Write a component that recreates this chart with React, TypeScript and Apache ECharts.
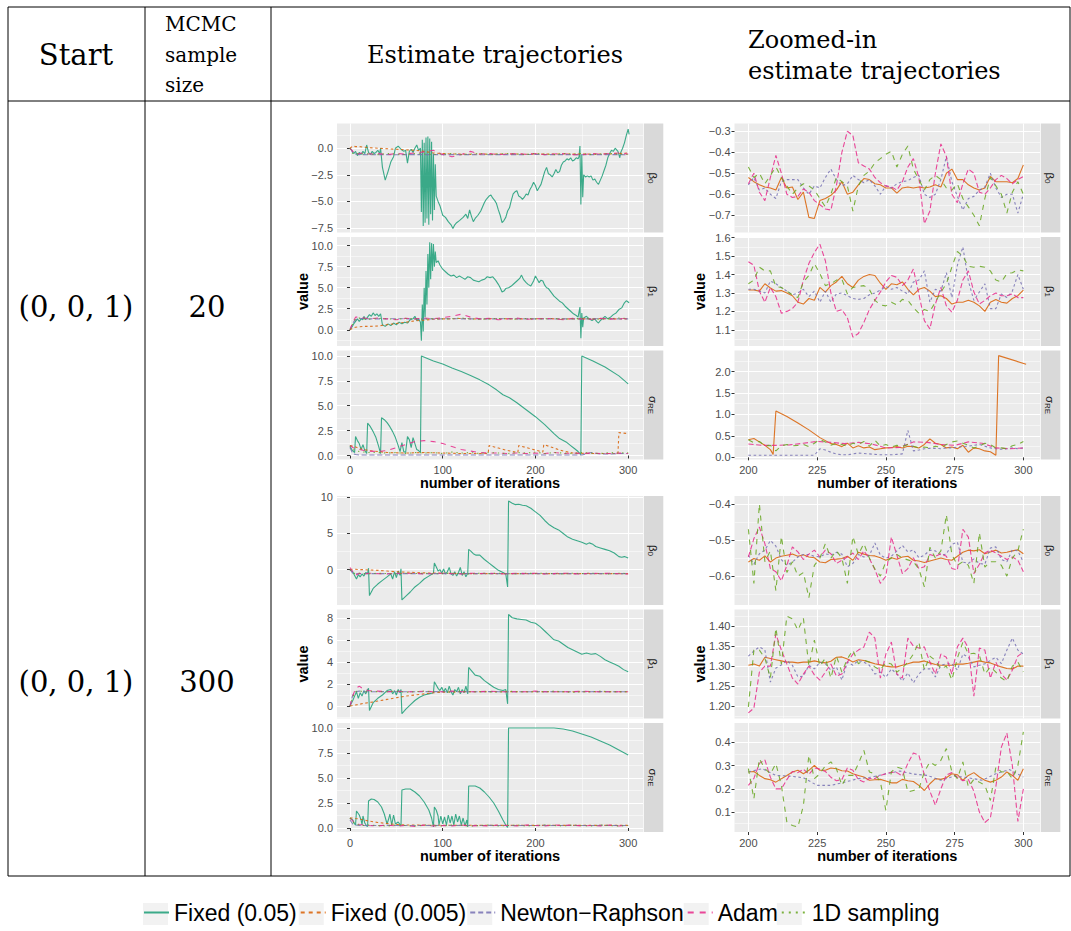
import React, { useEffect, useRef } from "react";
import * as echarts from "echarts";

// ---------------- categories / texts ----------------
const METHODS = ["Fixed (0.05)", "Fixed (0.005)", "Newton\u2212Raphson", "Adam", "1D sampling"];
const COLORS = ["#1B9E77", "#D95F02", "#7570B3", "#E7298A", "#66A61E"];
const HEAD_START = "Start";
const HEAD_MCMC = ["MCMC", "sample", "size"];
const HEAD_EST = "Estimate trajectories";
const HEAD_ZOOM = ["Zoomed-in", "estimate trajectories"];
const ROW_START = ["(0, 0, 1)", "(0, 0, 1)"];
const ROW_SIZE = ["20", "300"];
const X_TITLE = "number of iterations";
const Y_TITLE = "value";

// ---------------- tick labels ----------------
const X_TICKS_FULL = [0, 100, 200, 300];
const X_TICKS_ZOOM = [200, 225, 250, 275, 300];
const YT_R1L_B0 = [-7.5, -5, -2.5, 0];
const YT_R1L_B1 = [0, 2.5, 5, 7.5, 10];
const YT_R1L_S = [0, 2.5, 5, 7.5, 10];
const YT_R1Z_B0 = [-0.7, -0.6, -0.5, -0.4, -0.3];
const YT_R1Z_B1 = [1.1, 1.2, 1.3, 1.4, 1.5, 1.6];
const YT_R1Z_S = [0, 0.5, 1, 1.5, 2];
const YT_R2L_B0 = [0, 5, 10];
const YT_R2L_B1 = [0, 2, 4, 6, 8];
const YT_R2L_S = [0, 2.5, 5, 7.5, 10];
const YT_R2Z_B0 = [-0.6, -0.5, -0.4];
const YT_R2Z_B1 = [1.2, 1.25, 1.3, 1.35, 1.4];
const YT_R2Z_S = [0.1, 0.2, 0.3, 0.4];

// ---------------- iteration grids ----------------
const XL = [0, 3, 6, 10, 15, 20, 30, 40, 50, 60, 70, 80, 90, 100, 110, 120, 130, 140, 150, 160, 170, 180, 190, 200, 210, 220, 230, 240, 250, 260, 270, 280, 290, 300];
const X2 = [200, 202, 204, 206, 208, 210, 212, 214, 216, 218, 220, 222, 224, 226, 228, 230, 232, 234, 236, 238, 240, 242, 244, 246, 248, 250, 252, 254, 256, 258, 260, 262, 264, 266, 268, 270, 272, 274, 276, 278, 280, 282, 284, 286, 288, 290, 292, 294, 296, 298, 300];
const X5 = [200, 205, 210, 215, 220, 225, 230, 235, 240, 245, 250, 255, 260, 265, 270, 275, 280, 285, 290, 295, 300];

// ---------------- Row 1 (sample size 20), full trajectories ----------------
const R1_FIX05_B0 = [[0,0],[2,-0.2],[4,-0.5],[6,-0.3],[8,-0.7],[10,-0.4],[12,-0.6],[14,-0.3],[16,-0.5],[18,0.3],[20,-0.4],[22,-0.6],[24,-0.3],[26,-0.5],[28,-0.4],[30,-0.2],[32,-0.5],[33,0.0],[35,-1.8],[38,-3.0],[41,-2.2],[44,-1.3],[47,-0.8],[49,0.0],[52,0.2],[55,-0.1],[58,-0.3],[60,-0.2],[62,-1.4],[64,-0.3],[66,-0.1],[68,-0.4],[70,0.0],[72,0.3],[74,-0.2],[76,0.0],[77,-6.0],[78,0.8],[79,-7.3],[80,0.5],[81,-7.0],[82,1.0],[83,-6.6],[84,1.1],[85,-7.2],[86,0.9],[87,-6.2],[88,0.6],[89,-6.8],[90,-0.5],[91,-5.8],[92,-1.5],[93,-4.5],[95,-5.0],[97,-5.4],[100,-6.3],[103,-6.5],[106,-6.9],[109,-7.2],[111,-7.55],[113,-7.2],[115,-7.0],[118,-6.8],[122,-6.5],[125,-6.2],[127,-6.6],[129,-5.8],[131,-6.4],[133,-6.9],[135,-6.6],[138,-6.3],[141,-5.9],[143,-5.5],[145,-5.1],[147,-4.8],[150,-4.5],[152,-4.4],[154,-4.7],[156,-4.9],[158,-5.2],[160,-5.8],[162,-6.3],[164,-7.0],[166,-6.8],[168,-6.5],[170,-5.9],[172,-5.6],[174,-4.9],[176,-4.3],[178,-4.1],[180,-4.0],[182,-4.5],[184,-4.6],[186,-4.8],[188,-4.6],[190,-4.3],[192,-4.4],[194,-3.9],[196,-3.6],[198,-3.2],[200,-3.5],[202,-4.0],[204,-3.7],[206,-3.4],[208,-2.8],[210,-2.2],[212,-1.8],[214,-2.4],[216,-2.5],[218,-2.7],[220,-2.4],[222,-2.0],[224,-2.3],[226,-2.2],[228,-1.6],[230,-1.3],[232,-1.2],[234,-1.0],[236,-1.1],[238,-0.9],[240,-1.2],[242,-1.1],[244,-0.9],[246,-1.0],[247,-0.8],[248,0.2],[249,-5.3],[250,-0.6],[251,-4.6],[252,-2.5],[254,-2.7],[256,-2.6],[258,-2.7],[260,-2.6],[262,-3.0],[264,-2.9],[266,-3.2],[268,-3.4],[270,-3.0],[272,-2.6],[274,-2.1],[276,-1.6],[278,-0.9],[280,-0.5],[282,-0.2],[284,-0.3],[286,0.0],[288,-0.2],[289,-0.3],[291,-0.9],[292,-0.4],[294,0.0],[296,0.5],[298,1.2],[300,1.8],[301,1.3]];
const R1_FIX005_B0 = [0, 0.2, 0.15, 0.15, 0.1, 0.05, 0.0, -0.05, -0.1, -0.15, -0.2, -0.3, -0.45, -0.5, -0.55, -0.55, -0.58, -0.56, -0.55, -0.56, -0.54, -0.55, -0.57, -0.55, -0.56, -0.55, -0.54, -0.56, -0.55, -0.56, -0.55, -0.54, -0.5, -0.45];
const R1_NR_B0 = [0, -0.4, -0.55, -0.6, -0.6, -0.62, -0.6, -0.6, -0.62, -0.6, -0.6, -0.6, -0.6, -0.6, -0.6, -0.6, -0.6, -0.62, -0.6, -0.6, -0.6, -0.6, -0.6, -0.58, -0.6, -0.6, -0.6, -0.6, -0.62, -0.6, -0.6, -0.6, -0.6, -0.62];
const R1_ADAM_B0 = [0, -0.3, -0.6, -0.5, -0.45, -0.55, -0.5, -0.6, -0.5, -0.55, -0.45, -0.35, -0.2, -0.6, -0.8, -0.6, -0.3, -0.55, -0.5, -0.6, -0.55, -0.5, -0.58, -0.5, -0.6, -0.55, -0.5, -0.6, -0.62, -0.5, -0.55, -0.5, -0.45, -0.55];
const R1_1D_B0 = [0, -0.5, -0.45, -0.6, -0.5, -0.55, -0.6, -0.5, -0.55, -0.6, -0.5, -0.55, -0.6, -0.55, -0.5, -0.6, -0.55, -0.5, -0.6, -0.55, -0.5, -0.55, -0.6, -0.5, -0.55, -0.6, -0.5, -0.55, -0.5, -0.6, -0.55, -0.5, -0.55, -0.6];

const R1_FIX05_B1 = [[0,0],[2,0.3],[4,0.7],[6,1.0],[8,1.3],[10,1.0],[12,1.3],[14,1.2],[15,1.6],[17,1.2],[19,1.5],[21,1.8],[23,1.6],[25,2.0],[27,1.7],[29,1.9],[31,1.6],[33,1.9],[35,0.6],[38,0.4],[41,0.7],[44,0.5],[47,0.8],[50,0.6],[53,0.9],[56,0.7],[59,0.9],[62,0.8],[65,1.2],[68,1.3],[70,1.6],[72,1.1],[74,1.3],[76,0.9],[77,-1.3],[78,3.0],[79,-0.2],[80,5.0],[81,1.5],[82,7.0],[83,3.0],[84,9.0],[85,5.0],[86,10.4],[87,6.0],[88,10.3],[89,7.0],[90,10.2],[91,7.5],[92,9.3],[93,8.0],[95,8.2],[97,7.7],[100,7.2],[103,6.9],[106,6.6],[109,6.4],[112,6.5],[115,6.2],[118,6.4],[121,6.2],[124,6.0],[127,6.3],[130,6.2],[133,5.9],[136,5.8],[139,5.7],[142,5.9],[145,6.0],[148,6.3],[151,6.2],[154,6.3],[157,5.9],[160,5.4],[162,5.0],[164,4.5],[166,4.6],[168,4.9],[171,5.0],[174,5.2],[177,5.5],[180,5.8],[183,6.1],[185,6.5],[187,6.0],[190,5.6],[192,5.4],[195,5.2],[198,5.8],[200,6.4],[202,6.0],[204,5.6],[206,5.9],[208,5.8],[210,5.3],[212,5.0],[214,4.9],[216,4.6],[218,4.3],[220,4.0],[223,3.7],[226,3.4],[229,3.2],[232,2.8],[235,2.5],[238,2.2],[241,1.9],[244,1.7],[246,1.5],[248,2.7],[249,-1.0],[250,2.0],[251,0.3],[252,1.4],[255,1.6],[258,1.3],[261,1.1],[264,1.3],[266,1.0],[268,0.8],[270,1.1],[272,1.3],[275,1.6],[278,1.3],[281,1.5],[284,1.8],[287,2.0],[290,2.4],[293,2.6],[296,3.2],[298,3.45],[300,3.3],[301,3.2]];
const R1_FIX005_B1 = [0, 0.2, 0.3, 0.35, 0.4, 0.4, 0.45, 0.6, 0.75, 0.9, 1.05, 1.15, 1.25, 1.3, 1.3, 1.35, 1.3, 1.28, 1.3, 1.32, 1.3, 1.3, 1.28, 1.3, 1.32, 1.3, 1.3, 1.28, 1.3, 1.3, 1.32, 1.3, 1.28, 1.3];
const R1_NR_B1 = [0, 0.8, 1.2, 1.3, 1.35, 1.3, 1.3, 1.3, 1.32, 1.3, 1.3, 1.3, 1.3, 1.3, 1.32, 1.3, 1.3, 1.3, 1.3, 1.3, 1.32, 1.3, 1.3, 1.3, 1.3, 1.28, 1.3, 1.3, 1.3, 1.3, 1.32, 1.3, 1.3, 1.3];
const R1_ADAM_B1 = [0, 0.9, 1.5, 1.5, 1.4, 1.3, 1.4, 1.3, 1.2, 1.35, 1.3, 1.4, 1.3, 1.45, 1.6, 1.85, 1.5, 1.3, 1.35, 1.2, 1.3, 1.4, 1.25, 1.3, 1.35, 1.3, 1.2, 1.35, 1.3, 1.25, 1.35, 1.3, 1.3, 1.35];
const R1_1D_B1 = [0, 0.7, 1.3, 1.4, 1.3, 1.25, 1.35, 1.3, 1.25, 1.35, 1.3, 1.25, 1.35, 1.3, 1.3, 1.4, 1.3, 1.25, 1.3, 1.35, 1.3, 1.25, 1.35, 1.3, 1.3, 1.35, 1.25, 1.3, 1.35, 1.3, 1.25, 1.3, 1.4, 1.35];

const R1_FIX05_S = [[0,0.9],[2,0.6],[4,0.4],[5,0.3],[6,1.9],[8,1.5],[10,1.2],[12,0.6],[14,1.1],[16,0.5],[18,0.2],[19,3.25],[22,2.9],[25,2.4],[28,1.8],[31,0.9],[33,0.2],[34,3.8],[37,3.6],[40,3.3],[43,2.9],[46,2.4],[49,1.8],[52,1.0],[54,0.4],[56,1.3],[58,0.4],[60,0.3],[62,1.9],[64,1.6],[66,0.8],[68,1.8],[70,1.2],[72,0.6],[74,0.5],[76,0.3],[77,10.0],[90,9.5],[100,9.2],[110,8.8],[120,8.45],[130,8.05],[140,7.6],[150,7.1],[158,6.6],[165,6.1],[172,5.8],[180,5.3],[190,4.6],[200,3.9],[210,3.1],[220,2.2],[226,1.7],[230,1.5],[234,1.3],[238,1.0],[242,0.7],[246,0.4],[249,0.1],[250,10.0],[262,9.5],[275,8.9],[290,8.0],[300,7.2]];
const R1_FIX005_S = [[0,1.0],[5,0.9],[10,0.7],[20,0.5],[30,0.4],[40,0.3],[60,0.25],[80,0.3],[100,0.25],[120,0.2],[149,0.2],[150,1.0],[160,0.75],[170,0.5],[181,0.3],[182,1.0],[190,0.8],[200,0.55],[208,0.35],[209,1.1],[220,0.75],[230,0.45],[240,0.25],[260,0.2],[275,0.2],[289,0.2],[290,2.3],[300,2.2]];
const R1_NR_S = [0.8, 0.2, 0.1, 0.05, 0.05, 0.05, 0.05, 0.05, 0.05, 0.05, 0.05, 0.05, 0.05, 0.05, 0.05, 0.05, 0.05, 0.05, 0.05, 0.05, 0.05, 0.05, 0.05, 0.05, 0.05, 0.05, 0.05, 0.05, 0.05, 0.3, 0.15, 0.15, 0.2, 0.2];
const R1_ADAM_S = [1.0, 0.8, 0.7, 0.6, 0.5, 0.45, 0.4, 0.5, 0.8, 1.1, 1.4, 1.5, 1.4, 1.2, 0.9, 0.6, 0.45, 0.3, 0.25, 0.25, 0.2, 0.25, 0.2, 0.25, 0.2, 0.3, 0.2, 0.25, 0.2, 0.25, 0.2, 0.2, 0.25, 0.2];
const R1_1D_S = [1.0, 0.6, 0.5, 0.4, 0.35, 0.3, 0.3, 0.25, 0.3, 0.2, 0.3, 0.25, 0.3, 0.2, 0.35, 0.25, 0.3, 0.2, 0.3, 0.25, 0.2, 0.3, 0.25, 0.35, 0.2, 0.3, 0.25, 0.2, 0.3, 0.25, 0.2, 0.3, 0.25, 0.3];

// ---------------- Row 1 zoomed (iterations 200-300) ----------------
const R1Z_FIX005_B0 = [-0.52,-0.54,-0.555,-0.565,-0.57,-0.58,-0.52,-0.57,-0.565,-0.625,-0.59,-0.71,-0.715,-0.63,-0.62,-0.605,-0.58,-0.54,-0.6,-0.59,-0.555,-0.525,-0.53,-0.55,-0.555,-0.57,-0.57,-0.595,-0.57,-0.565,-0.57,-0.565,-0.57,-0.565,-0.555,-0.565,-0.5,-0.48,-0.53,-0.53,-0.555,-0.57,-0.58,-0.57,-0.515,-0.54,-0.54,-0.54,-0.545,-0.525,-0.46];
const R1Z_NR_B0 = [-0.555,-0.52,-0.58,-0.57,-0.6,-0.62,-0.54,-0.53,-0.53,-0.53,-0.57,-0.6,-0.56,-0.57,-0.52,-0.48,-0.53,-0.56,-0.55,-0.51,-0.53,-0.545,-0.53,-0.56,-0.6,-0.56,-0.57,-0.55,-0.54,-0.535,-0.52,-0.51,-0.6,-0.615,-0.6,-0.53,-0.42,-0.54,-0.61,-0.675,-0.62,-0.61,-0.58,-0.565,-0.5,-0.57,-0.615,-0.6,-0.6,-0.69,-0.6];
const R1Z_ADAM_B0 = [-0.55,-0.5,-0.59,-0.63,-0.52,-0.415,-0.5,-0.6,-0.615,-0.61,-0.575,-0.59,-0.63,-0.65,-0.67,-0.675,-0.56,-0.4,-0.3,-0.32,-0.45,-0.465,-0.48,-0.52,-0.545,-0.56,-0.565,-0.58,-0.54,-0.47,-0.43,-0.52,-0.74,-0.68,-0.5,-0.36,-0.42,-0.6,-0.64,-0.55,-0.48,-0.5,-0.59,-0.6,-0.57,-0.53,-0.51,-0.525,-0.55,-0.53,-0.515];
const R1Z_1D_B0 = [-0.47,-0.52,-0.5,-0.55,-0.51,-0.47,-0.52,-0.56,-0.6,-0.57,-0.55,-0.56,-0.58,-0.62,-0.66,-0.6,-0.52,-0.54,-0.56,-0.68,-0.56,-0.51,-0.49,-0.45,-0.43,-0.41,-0.395,-0.47,-0.41,-0.37,-0.48,-0.53,-0.58,-0.53,-0.51,-0.53,-0.57,-0.58,-0.55,-0.62,-0.66,-0.7,-0.75,-0.62,-0.52,-0.56,-0.6,-0.69,-0.59,-0.54,-0.6];

const R1Z_FIX005_B1 = [1.316,1.316,1.31,1.35,1.327,1.31,1.313,1.3,1.285,1.25,1.24,1.27,1.26,1.33,1.305,1.34,1.36,1.39,1.35,1.33,1.37,1.39,1.4,1.395,1.353,1.32,1.35,1.345,1.36,1.32,1.29,1.32,1.33,1.31,1.28,1.285,1.27,1.24,1.25,1.25,1.26,1.25,1.23,1.2,1.25,1.265,1.25,1.245,1.27,1.285,1.316];
const R1Z_NR_B1 = [1.32,1.32,1.31,1.3,1.365,1.35,1.33,1.31,1.29,1.3,1.32,1.28,1.31,1.25,1.31,1.25,1.295,1.3,1.285,1.27,1.265,1.27,1.29,1.3,1.315,1.335,1.32,1.33,1.31,1.295,1.36,1.37,1.42,1.25,1.32,1.31,1.41,1.275,1.45,1.55,1.365,1.26,1.305,1.35,1.215,1.215,1.295,1.275,1.31,1.4,1.32];
const R1Z_ADAM_B1 = [1.47,1.45,1.31,1.25,1.33,1.28,1.19,1.2,1.215,1.25,1.37,1.46,1.52,1.565,1.475,1.3,1.2,1.21,1.165,1.06,1.08,1.14,1.21,1.26,1.305,1.36,1.395,1.385,1.34,1.37,1.43,1.295,1.15,1.105,1.24,1.33,1.23,1.195,1.26,1.37,1.42,1.305,1.24,1.26,1.285,1.3,1.285,1.285,1.295,1.275,1.275];
const R1Z_1D_B1 = [1.35,1.37,1.44,1.42,1.42,1.335,1.33,1.31,1.29,1.275,1.36,1.395,1.46,1.405,1.34,1.35,1.37,1.375,1.295,1.33,1.335,1.34,1.32,1.26,1.235,1.23,1.25,1.235,1.265,1.26,1.22,1.19,1.21,1.2,1.25,1.305,1.35,1.44,1.525,1.5,1.445,1.44,1.445,1.44,1.42,1.37,1.36,1.405,1.41,1.425,1.42];

const R1Z_FIX005_S = [[200,0.41],[202,0.44],[204,0.36],[206,0.28],[208,0.18],[209,0.07],[210,1.08],[214,0.95],[218,0.8],[222,0.64],[226,0.46],[230,0.32],[232,0.3],[234,0.25],[236,0.33],[238,0.22],[240,0.27],[242,0.22],[244,0.24],[246,0.18],[248,0.2],[250,0.22],[252,0.23],[254,0.25],[256,0.22],[258,0.26],[260,0.25],[262,0.22],[264,0.3],[266,0.43],[268,0.33],[270,0.3],[272,0.22],[274,0.24],[276,0.2],[278,0.28],[280,0.12],[282,0.22],[284,0.2],[286,0.15],[288,0.13],[290,0.05],[291,2.37],[301,2.17]];
const R1Z_NR_S = [0.05,0.05,0.05,0.05,0.05,0.05,0.05,0.05,0.05,0.05,0.05,0.05,0.05,0.2,0.17,0.12,0.08,0.06,0.06,0.08,0.1,0.09,0.08,0.07,0.06,0.06,0.06,0.07,0.08,0.63,0.15,0.17,0.2,0.21,0.21,0.2,0.22,0.22,0.24,0.25,0.26,0.28,0.3,0.26,0.22,0.2,0.19,0.2,0.22,0.2,0.22];
const R1Z_ADAM_S = [0.31,0.28,0.28,0.29,0.33,0.37,0.35,0.32,0.35,0.31,0.22,0.23,0.36,0.35,0.3,0.28,0.36,0.33,0.22,0.2,0.22];
const R1Z_1D_S = [0.41,0.34,0.37,0.27,0.28,0.15,0.27,0.3,0.27,0.28,0.3,0.25,0.33,0.42,0.36,0.28,0.33,0.3,0.26,0.33,0.3,0.37,0.26,0.4,0.26,0.3,0.24,0.28,0.25,0.3,0.26,0.22,0.24,0.22,0.26,0.23,0.3,0.36,0.38,0.33,0.28,0.22,0.26,0.33,0.3,0.22,0.22,0.2,0.27,0.3,0.37];

// ---------------- Row 2 (sample size 300), full trajectories ----------------
const R2_FIX05_B0 = [[0,0],[3,-0.3],[5,-0.8],[7,-1.3],[9,-0.7],[11,-1.0],[13,-0.6],[15,-0.9],[17,-0.4],[19,-0.6],[20,0.2],[21,-3.6],[25,-2.6],[30,-2.0],[35,-1.5],[40,-1.0],[44,-0.6],[46,-1.3],[48,-0.3],[50,-1.1],[52,-0.2],[54,-0.8],[55,0.1],[56,-4.2],[60,-3.7],[65,-3.1],[70,-2.4],[75,-1.9],[80,-1.3],[85,-0.9],[90,-0.5],[91,0.9],[93,0.4],[95,-0.2],[97,0.0],[99,-0.5],[101,0.1],[103,-0.6],[105,-0.3],[107,0.3],[109,-0.6],[111,-0.8],[113,-0.3],[115,-0.9],[117,-0.4],[119,0.3],[121,-0.8],[123,-0.3],[125,-1.0],[127,-0.5],[128,2.8],[130,2.6],[133,2.2],[136,2.0],[140,2.0],[145,1.4],[150,0.9],[155,0.4],[160,-0.1],[165,-0.4],[168,-0.6],[170,-2.4],[171,9.5],[175,9.2],[178,9.0],[182,9.05],[186,8.9],[190,8.85],[195,8.5],[200,8.0],[205,7.5],[210,6.8],[215,6.2],[220,5.8],[225,5.5],[230,5.0],[235,4.5],[240,4.2],[245,4.0],[250,3.8],[255,3.5],[258,3.7],[262,3.5],[265,3.2],[270,3.0],[275,2.8],[280,2.6],[285,2.3],[290,1.8],[293,1.7],[296,1.8],[300,1.6]];
const R2_FIX005_B0 = [0, 0.05, 0.05, 0.0, 0.0, -0.05, -0.1, -0.2, -0.3, -0.35, -0.4, -0.45, -0.48, -0.5, -0.52, -0.54, -0.55, -0.55, -0.55, -0.55, -0.55, -0.55, -0.55, -0.55, -0.55, -0.55, -0.55, -0.55, -0.55, -0.55, -0.55, -0.55, -0.55, -0.55];
const R2_NR_B0 = [0, -0.5, -0.6, -0.55, -0.55, -0.56, -0.55, -0.55, -0.56, -0.55, -0.55, -0.55, -0.56, -0.55, -0.55, -0.55, -0.56, -0.55, -0.55, -0.55, -0.55, -0.56, -0.55, -0.55, -0.55, -0.56, -0.55, -0.55, -0.55, -0.55, -0.56, -0.55, -0.55, -0.55];
const R2_ADAM_B0 = [0.3, -0.3, -0.8, -0.5, -0.6, -0.5, -0.55, -0.6, -0.5, -0.55, -0.5, -0.6, -0.55, -0.5, -0.55, -0.6, -0.5, -0.55, -0.5, -0.55, -0.6, -0.5, -0.55, -0.5, -0.6, -0.55, -0.5, -0.55, -0.6, -0.5, -0.55, -0.5, -0.55, -0.6];
const R2_1D_B0 = [0, -0.4, -0.6, -0.5, -0.55, -0.6, -0.5, -0.55, -0.6, -0.5, -0.55, -0.5, -0.6, -0.55, -0.5, -0.55, -0.6, -0.5, -0.55, -0.5, -0.55, -0.6, -0.5, -0.55, -0.5, -0.55, -0.6, -0.5, -0.55, -0.5, -0.55, -0.6, -0.5, -0.55];

const R2_FIX05_B1 = [[0,0],[3,0.5],[5,0.9],[7,1.3],[9,0.7],[11,1.2],[13,0.9],[15,1.4],[17,1.1],[19,1.5],[20,1.6],[21,-0.4],[25,0.3],[30,0.7],[35,1.0],[40,1.4],[44,1.5],[46,1.1],[48,1.4],[50,1.0],[52,1.5],[54,1.2],[55,1.5],[56,-0.7],[60,-0.3],[65,0.1],[70,0.5],[75,0.8],[80,1.0],[85,1.1],[90,1.2],[91,2.2],[93,1.9],[95,1.6],[97,1.4],[99,1.7],[101,1.3],[103,1.6],[105,1.2],[107,1.8],[109,1.3],[111,1.0],[113,1.5],[115,1.3],[117,1.7],[119,1.1],[121,1.5],[123,1.2],[125,1.8],[127,1.1],[128,3.5],[130,3.3],[135,2.8],[140,2.7],[145,2.3],[150,2.0],[155,1.7],[160,1.5],[165,1.4],[168,1.5],[170,0.2],[171,8.3],[175,8.0],[180,7.9],[185,7.85],[190,7.8],[195,7.6],[200,7.5],[205,7.2],[210,6.8],[215,6.4],[220,6.0],[225,5.9],[230,5.6],[235,5.3],[240,5.1],[245,4.9],[250,4.7],[255,4.8],[260,4.7],[265,4.75],[270,4.5],[275,4.2],[280,4.0],[285,3.8],[290,3.6],[295,3.3],[300,3.1]];
const R2_FIX005_B1 = [0, 0.05, 0.1, 0.15, 0.25, 0.3, 0.45, 0.6, 0.75, 0.9, 1.0, 1.1, 1.2, 1.25, 1.28, 1.3, 1.3, 1.3, 1.3, 1.3, 1.3, 1.3, 1.3, 1.3, 1.3, 1.3, 1.3, 1.3, 1.3, 1.3, 1.3, 1.3, 1.3, 1.3];
const R2_NR_B1 = [0, 1.0, 1.3, 1.35, 1.3, 1.3, 1.3, 1.31, 1.3, 1.3, 1.3, 1.3, 1.31, 1.3, 1.3, 1.3, 1.3, 1.3, 1.31, 1.3, 1.3, 1.3, 1.3, 1.3, 1.31, 1.3, 1.3, 1.3, 1.3, 1.3, 1.31, 1.3, 1.3, 1.3];
const R2_ADAM_B1 = [0, 0.9, 1.6, 1.8, 1.5, 1.4, 1.35, 1.3, 1.35, 1.3, 1.3, 1.35, 1.3, 1.3, 1.35, 1.3, 1.3, 1.3, 1.35, 1.3, 1.3, 1.3, 1.3, 1.35, 1.3, 1.3, 1.3, 1.3, 1.35, 1.3, 1.3, 1.3, 1.3, 1.3];
const R2_1D_B1 = [0, 0.8, 1.3, 1.4, 1.25, 1.35, 1.3, 1.3, 1.35, 1.25, 1.3, 1.35, 1.3, 1.3, 1.25, 1.35, 1.3, 1.3, 1.3, 1.25, 1.35, 1.3, 1.3, 1.3, 1.3, 1.35, 1.3, 1.25, 1.3, 1.3, 1.35, 1.3, 1.3, 1.3];

const R2_FIX05_S = [[0,1.0],[3,0.8],[5,0.4],[6,0.3],[7,1.7],[10,1.3],[12,0.8],[13,0.3],[14,1.2],[16,0.5],[18,0.2],[19,0.15],[20,2.7],[23,2.9],[26,2.85],[30,2.6],[34,2.1],[37,1.4],[40,0.4],[42,1.0],[43,1.4],[45,0.3],[47,1.3],[49,0.4],[52,0.6],[55,0.2],[56,3.8],[60,3.9],[65,3.9],[70,3.6],[75,3.2],[80,2.6],[85,1.8],[88,1.0],[90,0.1],[91,2.1],[93,1.8],[95,1.2],[96,0.3],[98,1.2],[100,0.4],[102,1.1],[104,0.3],[106,1.3],[108,0.5],[110,1.2],[112,0.3],[114,1.4],[116,0.6],[118,1.2],[120,0.3],[122,1.0],[124,0.2],[126,0.8],[127,0.1],[128,4.2],[135,4.2],[140,4.0],[145,3.6],[150,3.1],[155,2.5],[160,1.7],[165,0.8],[168,0.3],[170,0.05],[171,10.0],[180,10.0],[200,10.0],[220,10.0],[230,9.9],[240,9.7],[250,9.4],[260,9.1],[270,8.7],[280,8.3],[290,7.8],[300,7.3]];
const R2_FIX005_S = [1.0, 1.0, 0.95, 0.9, 0.8, 0.7, 0.55, 0.45, 0.35, 0.3, 0.3, 0.28, 0.28, 0.27, 0.27, 0.27, 0.27, 0.26, 0.26, 0.26, 0.26, 0.26, 0.26, 0.26, 0.26, 0.26, 0.26, 0.26, 0.26, 0.26, 0.26, 0.26, 0.26, 0.26];
const R2_NR_S = [0.8, 0.4, 0.3, 0.25, 0.25, 0.25, 0.25, 0.26, 0.25, 0.25, 0.25, 0.25, 0.26, 0.25, 0.25, 0.25, 0.25, 0.25, 0.26, 0.25, 0.25, 0.25, 0.25, 0.25, 0.26, 0.25, 0.25, 0.25, 0.25, 0.25, 0.26, 0.25, 0.25, 0.25];
const R2_ADAM_S = [1.0, 0.7, 0.5, 0.35, 0.3, 0.25, 0.2, 0.3, 0.2, 0.25, 0.15, 0.3, 0.2, 0.25, 0.2, 0.3, 0.2, 0.25, 0.2, 0.3, 0.25, 0.2, 0.3, 0.25, 0.2, 0.3, 0.25, 0.3, 0.2, 0.25, 0.2, 0.3, 0.2, 0.25];
const R2_1D_S = [1.0, 0.6, 0.4, 0.3, 0.25, 0.3, 0.25, 0.2, 0.3, 0.25, 0.2, 0.3, 0.25, 0.2, 0.3, 0.25, 0.2, 0.25, 0.3, 0.2, 0.25, 0.3, 0.2, 0.25, 0.3, 0.25, 0.2, 0.3, 0.25, 0.2, 0.3, 0.25, 0.2, 0.25];

// ---------------- Row 2 zoomed (iterations 200-300) ----------------
const R2Z_FIX005_B0 = [-0.561,-0.551,-0.556,-0.544,-0.561,-0.55,-0.545,-0.542,-0.539,-0.545,-0.541,-0.547,-0.549,-0.561,-0.563,-0.554,-0.553,-0.551,-0.545,-0.556,-0.534,-0.539,-0.543,-0.544,-0.549,-0.556,-0.549,-0.553,-0.547,-0.545,-0.556,-0.558,-0.562,-0.558,-0.554,-0.55,-0.554,-0.556,-0.545,-0.534,-0.528,-0.53,-0.527,-0.538,-0.533,-0.528,-0.536,-0.534,-0.53,-0.527,-0.538];
const R2Z_NR_B0 = [-0.542,-0.567,-0.538,-0.528,-0.501,-0.517,-0.554,-0.57,-0.561,-0.547,-0.54,-0.54,-0.545,-0.547,-0.538,-0.542,-0.534,-0.539,-0.574,-0.565,-0.54,-0.547,-0.543,-0.508,-0.542,-0.55,-0.545,-0.53,-0.515,-0.533,-0.527,-0.549,-0.542,-0.528,-0.53,-0.542,-0.539,-0.512,-0.506,-0.561,-0.565,-0.552,-0.565,-0.567,-0.522,-0.519,-0.554,-0.56,-0.527,-0.53,-0.561];
const R2Z_ADAM_B0 = [-0.547,-0.496,-0.464,-0.51,-0.579,-0.588,-0.613,-0.57,-0.519,-0.533,-0.554,-0.539,-0.528,-0.547,-0.528,-0.538,-0.565,-0.556,-0.547,-0.536,-0.554,-0.53,-0.551,-0.582,-0.62,-0.6,-0.492,-0.542,-0.593,-0.579,-0.549,-0.579,-0.574,-0.54,-0.545,-0.538,-0.545,-0.579,-0.583,-0.47,-0.492,-0.593,-0.567,-0.536,-0.528,-0.536,-0.545,-0.554,-0.547,-0.556,-0.588];
const R2Z_1D_B0 = [-0.47,-0.62,-0.4,-0.56,-0.53,-0.64,-0.49,-0.59,-0.56,-0.6,-0.59,-0.66,-0.57,-0.55,-0.51,-0.55,-0.53,-0.55,-0.62,-0.49,-0.54,-0.51,-0.55,-0.58,-0.6,-0.56,-0.55,-0.54,-0.55,-0.555,-0.56,-0.58,-0.63,-0.52,-0.55,-0.53,-0.43,-0.54,-0.57,-0.56,-0.57,-0.62,-0.48,-0.575,-0.56,-0.56,-0.57,-0.6,-0.55,-0.53,-0.47];

const R2Z_FIX005_B1 = [1.302,1.305,1.3,1.322,1.319,1.316,1.313,1.31,1.31,1.308,1.31,1.31,1.313,1.31,1.308,1.312,1.322,1.323,1.318,1.31,1.316,1.314,1.31,1.306,1.303,1.3,1.298,1.298,1.302,1.306,1.31,1.31,1.313,1.308,1.304,1.302,1.302,1.302,1.305,1.305,1.307,1.31,1.313,1.31,1.308,1.303,1.298,1.294,1.293,1.3,1.3];
const R2Z_NR_B1 = [1.325,1.338,1.348,1.34,1.26,1.295,1.303,1.314,1.302,1.273,1.275,1.302,1.293,1.31,1.306,1.29,1.298,1.265,1.31,1.302,1.314,1.31,1.302,1.28,1.285,1.272,1.293,1.28,1.263,1.283,1.258,1.28,1.293,1.293,1.273,1.302,1.306,1.306,1.29,1.33,1.322,1.298,1.302,1.306,1.314,1.322,1.306,1.34,1.37,1.34,1.33];
const R2Z_ADAM_B1 = [1.183,1.195,1.285,1.3,1.3,1.38,1.34,1.305,1.27,1.255,1.28,1.3,1.278,1.265,1.285,1.305,1.275,1.28,1.31,1.33,1.34,1.348,1.385,1.37,1.27,1.33,1.36,1.28,1.27,1.37,1.35,1.345,1.348,1.31,1.28,1.33,1.322,1.28,1.348,1.37,1.345,1.225,1.345,1.34,1.27,1.31,1.28,1.265,1.29,1.325,1.335];
const R2Z_1D_B1 = [1.198,1.34,1.34,1.32,1.27,1.395,1.305,1.425,1.418,1.39,1.42,1.3,1.365,1.3,1.32,1.27,1.325,1.285,1.318,1.34,1.306,1.315,1.31,1.298,1.29,1.31,1.305,1.285,1.295,1.31,1.33,1.36,1.29,1.325,1.314,1.293,1.3,1.265,1.32,1.36,1.33,1.332,1.327,1.28,1.298,1.285,1.27,1.262,1.3,1.31,1.285];

const R2Z_FIX005_S = [0.273,0.275,0.258,0.244,0.239,0.229,0.244,0.258,0.273,0.28,0.265,0.28,0.301,0.28,0.28,0.29,0.287,0.278,0.277,0.265,0.258,0.251,0.237,0.239,0.241,0.234,0.226,0.226,0.241,0.235,0.232,0.215,0.193,0.222,0.244,0.241,0.248,0.265,0.261,0.237,0.258,0.27,0.251,0.237,0.229,0.237,0.251,0.273,0.258,0.237,0.287];
const R2Z_NR_S = [0.273,0.287,0.258,0.255,0.248,0.215,0.215,0.229,0.244,0.251,0.265,0.277,0.264,0.258,0.237,0.255,0.248,0.237,0.265,0.283,0.251];
const R2Z_ADAM_S = [0.215,0.245,0.31,0.325,0.25,0.2,0.2,0.24,0.275,0.27,0.285,0.263,0.29,0.285,0.275,0.25,0.235,0.24,0.29,0.28,0.24,0.23,0.245,0.245,0.258,0.265,0.272,0.27,0.255,0.31,0.355,0.345,0.26,0.19,0.13,0.2,0.26,0.27,0.25,0.235,0.24,0.19,0.1,0.055,0.075,0.21,0.38,0.44,0.3,0.06,0.2];
const R2Z_1D_S = [0.287,0.157,0.33,0.287,0.265,0.309,0.215,0.056,0.042,0.035,0.128,0.345,0.244,0.265,0.3,0.316,0.287,0.215,0.258,0.258,0.309,0.366,0.273,0.265,0.23,0.107,0.273,0.294,0.287,0.186,0.193,0.2,0.273,0.316,0.301,0.323,0.374,0.273,0.244,0.316,0.208,0.241,0.229,0.215,0.15,0.294,0.273,0.275,0.244,0.3,0.446];

// ---------------- assembly ----------------
const zip = (xs: number[], ys: number[]) => xs.map((x, i) => [x, ys[i]]);

const FACETS: any[] = [
  { col: 0, row: 0, f: 0, strip: "b0", yr: [-7.92, 2.32], ticks: YT_R1L_B0, dec: 1,
    lines: [R1_FIX05_B0, zip(XL, R1_FIX005_B0), zip(XL, R1_NR_B0), zip(XL, R1_ADAM_B0), zip(XL, R1_1D_B0)] },
  { col: 0, row: 0, f: 1, strip: "b1", yr: [-1.93, 11.03], ticks: YT_R1L_B1, dec: 1,
    lines: [R1_FIX05_B1, zip(XL, R1_FIX005_B1), zip(XL, R1_NR_B1), zip(XL, R1_ADAM_B1), zip(XL, R1_1D_B1)] },
  { col: 0, row: 0, f: 2, strip: "s", yr: [-0.4, 10.55], ticks: YT_R1L_S, dec: 1,
    lines: [R1_FIX05_S, R1_FIX005_S, zip(XL, R1_NR_S), zip(XL, R1_ADAM_S), zip(XL, R1_1D_S)] },
  { col: 1, row: 0, f: 0, strip: "b0", yr: [-0.782, -0.263], ticks: YT_R1Z_B0, dec: 1,
    lines: [null, zip(X2, R1Z_FIX005_B0), zip(X2, R1Z_NR_B0), zip(X2, R1Z_ADAM_B0), zip(X2, R1Z_1D_B0)] },
  { col: 1, row: 0, f: 1, strip: "b1", yr: [1.012, 1.604], ticks: YT_R1Z_B1, dec: 1,
    lines: [null, zip(X2, R1Z_FIX005_B1), zip(X2, R1Z_NR_B1), zip(X2, R1Z_ADAM_B1), zip(X2, R1Z_1D_B1)] },
  { col: 1, row: 0, f: 2, strip: "s", yr: [-0.05, 2.49], ticks: YT_R1Z_S, dec: 1,
    lines: [null, R1Z_FIX005_S, zip(X2, R1Z_NR_S), zip(X5, R1Z_ADAM_S), zip(X2, R1Z_1D_S)] },
  { col: 0, row: 1, f: 0, strip: "b0", yr: [-4.9, 10.19], ticks: YT_R2L_B0, dec: 0,
    lines: [R2_FIX05_B0, zip(XL, R2_FIX005_B0), zip(XL, R2_NR_B0), zip(XL, R2_ADAM_B0), zip(XL, R2_1D_B0)] },
  { col: 0, row: 1, f: 1, strip: "b1", yr: [-1.13, 8.75], ticks: YT_R2L_B1, dec: 0,
    lines: [R2_FIX05_B1, zip(XL, R2_FIX005_B1), zip(XL, R2_NR_B1), zip(XL, R2_ADAM_B1), zip(XL, R2_1D_B1)] },
  { col: 0, row: 1, f: 2, strip: "s", yr: [-0.4, 10.5], ticks: YT_R2L_S, dec: 1,
    lines: [R2_FIX05_S, zip(XL, R2_FIX005_S), zip(XL, R2_NR_S), zip(XL, R2_ADAM_S), zip(XL, R2_1D_S)] },
  { col: 1, row: 1, f: 0, strip: "b0", yr: [-0.68, -0.378], ticks: YT_R2Z_B0, dec: 1,
    lines: [null, zip(X2, R2Z_FIX005_B0), zip(X2, R2Z_NR_B0), zip(X2, R2Z_ADAM_B0), zip(X2, R2Z_1D_B0)] },
  { col: 1, row: 1, f: 1, strip: "b1", yr: [1.169, 1.4415], ticks: YT_R2Z_B1, dec: 2,
    lines: [null, zip(X2, R2Z_FIX005_B1), zip(X2, R2Z_NR_B1), zip(X2, R2Z_ADAM_B1), zip(X2, R2Z_1D_B1)] },
  { col: 1, row: 1, f: 2, strip: "s", yr: [0.014, 0.484], ticks: YT_R2Z_S, dec: 1,
    lines: [null, zip(X2, R2Z_FIX005_S), zip(X5, R2Z_NR_S), zip(X2, R2Z_ADAM_S), zip(X2, R2Z_1D_S)] },
];

// ---------------- layout / style ----------------
const COL_LEFT = [337, 734.5];
const COL_WIDTH = [306, 305.5];
const X_RANGE = [[-14, 316], [194.95, 306.05]];
const ROW_TOPS = [[123.5, 237, 350.5], [496, 609.5, 723]];
const FACET_H = 109;
const STRIP_W = 19.5;
const PANEL_BG = "#EBEBEB";
const STRIP_BG = "#D9D9D9";
const SANS = "Liberation Sans";
const SERIF = "DejaVu Serif";
const LINE_W = 1.1;
const DASH_FULL: any[] = ["solid", [2.6, 2.6], [5.2, 2.6], [5.2, 5.2], [1.3, 3.9]];
const DASH_ZOOM: any[] = [null, "solid", [2.6, 2.6], [5.2, 2.6], [5.2, 5.2]];
const LEG_DASH: any[] = ["solid", [4, 4], [5, 3], [6, 6], [2, 5]];
const LEG_LEFT = 143;
const LEG_TOP = 901;
const LEG_ITEM_W = 25;
const LEG_ITEM_H = 26;
const LEG_GAP = 3;
const LEG_FONT = 23;

const minorsOf = (t: number[], lo: number, hi: number) => {
  const s = t[1] - t[0];
  const out = [t[0] - s / 2, ...t.map((v) => v + s / 2)];
  return out.map((v) => Math.round(v * 1e6) / 1e6).filter((v) => v > lo && v < hi);
};
const fmt = (dec: number) => (v: number) => (v < -1e-9 ? "\u2212" : "") + Math.abs(v).toFixed(dec);

function stripText(kind: string) {
  if (kind === "b0") return "{g|\u03B2}{s|0}";
  if (kind === "b1") return "{g|\u03B2}{s|1}";
  return "{g|\u03C3}{s|RE}";
}

function buildOption() {
  const grid: any[] = [];
  const xAxis: any[] = [];
  const yAxis: any[] = [];
  const series: any[] = [];
  const graphic: any[] = [];

  FACETS.forEach((fc, gi) => {
    const left = COL_LEFT[fc.col];
    const width = COL_WIDTH[fc.col];
    const top = ROW_TOPS[fc.row][fc.f];
    const [xmin, xmax] = X_RANGE[fc.col];
    const [ymin, ymax] = fc.yr;
    const xt = fc.col === 0 ? X_TICKS_FULL : X_TICKS_ZOOM;
    const xm = minorsOf(xt, xmin, xmax);
    const ym = minorsOf(fc.ticks, ymin, ymax);
    const isBottom = fc.f === 2;
    const isMid = fc.f === 1;

    grid.push({ left, top, width, height: FACET_H, show: true, backgroundColor: PANEL_BG, borderWidth: 0,
      borderColor: "transparent", containLabel: false, outerBoundsMode: "none" });

    xAxis.push({
      type: "value", gridIndex: gi, min: xmin, max: xmax, position: "bottom",
      axisLine: { show: false },
      axisTick: { show: isBottom, length: 3, lineStyle: { color: "#333333", width: 1 }, customValues: xt },
      axisLabel: { show: isBottom, customValues: xt, color: "#4D4D4D", fontSize: 11, fontFamily: SANS, margin: 5, formatter: fmt(0) },
      splitLine: { show: true, lineStyle: { color: "#FFFFFF", width: 1.1 } },
      name: isBottom ? X_TITLE : "", nameLocation: "middle", nameGap: 16, nameMoveOverlap: false,
      nameTextStyle: { fontSize: 14.5, fontWeight: "bold", color: "#000", fontFamily: SANS },
    });
    xAxis.push({
      type: "value", gridIndex: gi, min: xmin, max: xmax, position: "top",
      axisLine: { show: false }, axisTick: { show: false, customValues: xm },
      axisLabel: { show: false, customValues: xm },
      splitLine: { show: true, lineStyle: { color: "#FFFFFF", width: 0.5 } },
    });
    yAxis.push({
      type: "value", gridIndex: gi, min: ymin, max: ymax, position: "left",
      axisLine: { show: false },
      axisTick: { show: true, length: 3, lineStyle: { color: "#333333", width: 1 }, customValues: fc.ticks },
      axisLabel: { show: true, customValues: fc.ticks, color: "#4D4D4D", fontSize: 11, fontFamily: SANS, margin: 4, formatter: fmt(fc.dec) },
      splitLine: { show: true, lineStyle: { color: "#FFFFFF", width: 1.1 } },
      name: isMid ? Y_TITLE : "", nameLocation: "middle", nameGap: 27, nameRotate: 90, nameMoveOverlap: false,
      nameTextStyle: { fontSize: 14.5, fontWeight: "bold", color: "#000", fontFamily: SANS },
    });
    yAxis.push({
      type: "value", gridIndex: gi, min: ymin, max: ymax, position: "right",
      axisLine: { show: false }, axisTick: { show: false, customValues: ym },
      axisLabel: { show: false, customValues: ym },
      splitLine: { show: true, lineStyle: { color: "#FFFFFF", width: 0.5 } },
    });

    fc.lines.forEach((data: any, k: number) => {
      if (!data) return;
      const dash = fc.col === 0 ? DASH_FULL[k] : DASH_ZOOM[k];
      series.push({
        type: "line", name: METHODS[k], xAxisIndex: 2 * gi, yAxisIndex: 2 * gi, data,
        symbol: "none", showSymbol: false, silent: true, animation: false, clip: true,
        lineStyle: { color: COLORS[k], width: LINE_W, type: dash, opacity: 0.85 },
        itemStyle: { color: COLORS[k] }, emphasis: { disabled: true }, z: 3,
      });
    });

    const sx = left + width + 0.8;
    graphic.push({ type: "rect", silent: true, z: 1, shape: { x: sx, y: top, width: STRIP_W, height: FACET_H }, style: { fill: STRIP_BG } });
    graphic.push({
      type: "text", silent: true, z: 2, x: sx + STRIP_W / 2, y: top + FACET_H / 2, rotation: -Math.PI / 2,
      style: {
        text: stripText(fc.strip), align: "center", verticalAlign: "middle", textAlign: "center", textVerticalAlign: "middle",
        rich: {
          g: { fontSize: 11.5, fontFamily: SANS, fill: "#1A1A1A", lineHeight: 14, verticalAlign: "bottom" },
          s: { fontSize: 8, fontFamily: SANS, fill: "#1A1A1A", lineHeight: 7, verticalAlign: "bottom" },
        },
      },
    });
  });

  // ---- table frame
  const T = { l: 8, r: 1070, t: 7, h: 101, b: 876, c1: 145, c2: 271 };
  const ln = (x1: number, y1: number, x2: number, y2: number) => ({
    type: "line", silent: true, z: 5, shape: { x1, y1, x2, y2 }, style: { stroke: "#000", lineWidth: 1 },
  });
  graphic.push(ln(T.l, T.t, T.r, T.t), ln(T.l, T.h, T.r, T.h), ln(T.l, T.b, T.r, T.b));
  graphic.push(ln(T.l, T.t, T.l, T.b), ln(T.c1, T.t, T.c1, T.b), ln(T.c2, T.t, T.c2, T.b), ln(T.r, T.t, T.r, T.b));
  const txt = (text: string, x: number, y: number, size: number, align = "center") => ({
    type: "text", silent: true, z: 5, x, y,
    style: { text, fontSize: size, fontFamily: SERIF, fill: "#000", align, verticalAlign: "middle", textAlign: align, textVerticalAlign: "middle" },
  });
  graphic.push(txt(HEAD_START, 76, 55, 29));
  HEAD_MCMC.forEach((s, i) => graphic.push(txt(s, 165, 24 + i * 30.5, 20, "left")));
  graphic.push(txt(HEAD_EST, 495, 55, 24));
  HEAD_ZOOM.forEach((s, i) => graphic.push(txt(s, 748, 40 + i * 31, 24, "left")));
  graphic.push(txt(ROW_START[0], 76, 307, 29), txt(ROW_SIZE[0], 207, 307, 29));
  graphic.push(txt(ROW_START[1], 76, 682, 29), txt(ROW_SIZE[1], 207, 682, 29));

  // ---- legend key backgrounds (grey95 boxes behind the legend icons)
  const ctx = document.createElement("canvas").getContext("2d");
  let lx = LEG_LEFT;
  METHODS.forEach((name) => {
    graphic.push({ type: "rect", silent: true, z: 0, shape: { x: lx, y: LEG_TOP + LEG_ITEM_H / 2 - 11, width: LEG_ITEM_W, height: 22 }, style: { fill: "#F2F2F2" } });
    let w = name.length * LEG_FONT * 0.5;
    if (ctx) { ctx.font = `${LEG_FONT}px "${SANS}"`; w = ctx.measureText(name).width; }
    lx += LEG_ITEM_W + 5 + w + LEG_GAP;
  });

  return {
    animation: false,
    backgroundColor: "#FFFFFF",
    textStyle: { fontFamily: SANS },
    grid, xAxis, yAxis, series, graphic,
    legend: {
      show: true, left: LEG_LEFT, top: LEG_TOP, orient: "horizontal", itemWidth: LEG_ITEM_W, itemHeight: LEG_ITEM_H,
      itemGap: LEG_GAP, selectedMode: false, padding: 0,
      itemStyle: { opacity: 0, borderWidth: 0 },
      textStyle: { fontSize: LEG_FONT, fontFamily: SANS, color: "#000" },
      data: METHODS.map((name, k) => ({
        name,
        itemStyle: { opacity: 0, borderWidth: 0 },
        lineStyle: { color: COLORS[k], width: 2, type: LEG_DASH[k], opacity: 0.85 },
      })),
    },
  };
}

export default function App() {
  const ref = useRef<HTMLDivElement>(null);
  useEffect(() => {
    if (!ref.current) return;
    const chart = echarts.init(ref.current, null, { renderer: "svg" });
    chart.setOption(buildOption() as any);
    return () => chart.dispose();
  }, []);
  return <div ref={ref} style={{ position: "absolute", left: 0, top: 0, width: 1071, height: 931 }} />;
}
